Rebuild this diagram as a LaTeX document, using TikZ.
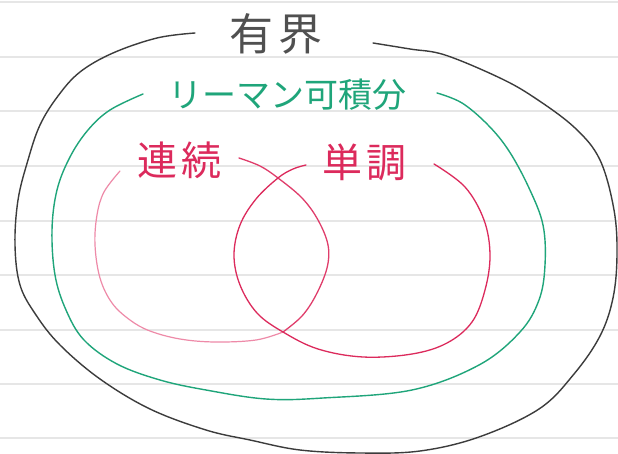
\documentclass[tikz,border=0pt]{standalone}
\usepackage{fontspec}
\newfontfamily\jpfont{Noto Sans CJK JP}
\definecolor{pencil}{HTML}{3C3C3C}
\definecolor{greenpen}{HTML}{1FA57A}
\definecolor{redpen}{HTML}{DC2A5C}
\definecolor{pinkpen}{HTML}{EE8AA8}
\definecolor{ruling}{HTML}{E6E6E6}
\tikzset{
  ruleline/.style={ruling, line width=1.2pt},
  stroke/.style={line width=1.4pt, line cap=round, line join=round},
  label/.style={inner sep=0pt, font=\jpfont},
}
\begin{document}
\begin{tikzpicture}[x=1pt,y=-1pt]
\useasboundingbox[fill=white] (0,0) rectangle (618,454);
% ruled paper
\foreach \yy in {2,57,111,166,221,275,330,384,438}
  \draw[ruleline] (0,\yy) -- (618,\yy);
% labels
\node[label, text=pencil!90, font=\jpfont\fontsize{44}{44}\selectfont] (yukai) at (276,34) {有\hspace{6pt}界};
\node[label, text=greenpen, font=\jpfont\fontsize{34}{34}\selectfont] (riemann) at (287,95) {リーマン可積分};
\node[label, text=redpen, font=\jpfont\fontsize{40}{40}\selectfont] (renzoku) at (179,160) {連\hspace{4pt}続};
\node[label, text=redpen, font=\jpfont\fontsize{40}{40}\selectfont] (tancho) at (364,162) {単\hspace{4pt}調};
% bounded
\draw[stroke, pencil] plot[smooth, tension=0.6] coordinates {
 (195,33) (157,38) (113,53) (80,72) (58,96) (40,125) (28,160) (18,200)
 (15,245) (20,285) (36,315) (60,345) (100,379) (150,409) (206,430) (250,440)
 (300,450) (360,453) (420,451) (479,437) (539,409) (574,374) (600,336) (613,298)
 (617,255) (614,210) (600,160) (575,128) (535,98) (500,78) (445,55) (410,49) (373,43)};
% Riemann integrable
\draw[stroke, greenpen] plot[smooth, tension=0.6] coordinates {
 (143,94) (110,110) (88,130) (70,157) (57,190) (52,230) (55,275) (66,310) (84,340)
 (117,364) (160,380) (206,390) (266,399) (323,398) (412,390) (479,365) (520,332)
 (539,300) (545,265) (543,225) (529,188) (509,151) (488,125) (462,103) (437,93)};
% continuous
\draw[stroke, pinkpen, line width=1.2pt] plot[smooth, tension=0.6] coordinates {
 (120,171) (104,192) (97,215) (95,245) (100,278) (112,303) (130,320) (150,331)
 (180,339) (215,342) (256,340) (283,332)};
\draw[stroke, redpen!80!pinkpen, line width=1.3pt] plot[smooth, tension=0.6] coordinates {
 (283,332) (302,316) (316,295) (327,268) (328,245) (318,220) (302,198) (278,178)
 (260,166) (239,158)};
% monotone
\draw[stroke, redpen, line width=1.3pt] plot[smooth, tension=0.6] coordinates {
 (434,164) (465,187) (484,220) (490,255) (485,290) (472,322) (447,343) (412,354)
 (363,357) (318,349) (283,332) (257,313) (240,285) (234,255) (240,225) (256,199)
 (278,178) (293,169) (306,165)};
\end{tikzpicture}
\end{document}
